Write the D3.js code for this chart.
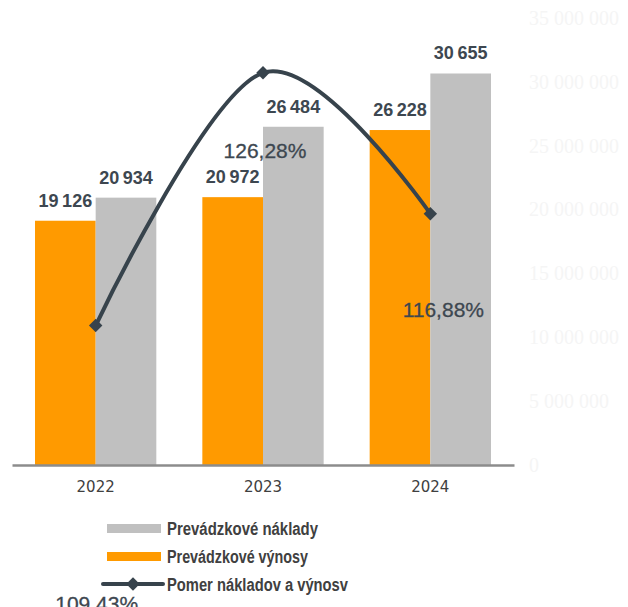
<!DOCTYPE html>
<html>
<head>
<meta charset="utf-8">
<script src="https://cdn.jsdelivr.net/npm/d3@7"></script>
<style>
  body { margin: 0; background: #fff; }
  svg { display: block; }
</style>
</head>
<body>
<svg id="chart" width="628" height="607"></svg>
<script>
// roky a hodnoty (v tis. EUR)
const years = ["2022", "2023", "2024"];
const vynosy = [19126, 20972, 26228];   // Prevádzkové výnosy
const naklady = [20934, 26484, 30655];  // Prevádzkové náklady
const pomer = [109.43, 126.28, 116.88]; // Pomer nákladov a výnosov v %
const axisTicks = [0, 5000, 10000, 15000, 20000, 25000, 30000, 35000];
const legendLabels = ["Prevádzkové náklady", "Prevádzkové výnosy", "Pomer nákladov a výnosv"];

const svg = d3.select("#chart");
const baseY = 465;

const colOrange = "#ff9a00", colGrey = "#c0c0c0", colLine = "#37434c";
const txtDark = "#3d4750";

// skaly
const x0 = d3.scaleBand().domain(years).range([12, 514])
  .paddingInner(0.275).paddingOuter(0.1375);
const x1 = d3.scaleBand().domain(["v", "n"]).range([0, x0.bandwidth()]);
const y = d3.scaleLinear().domain([0, 35000]).range([baseY, 18]);
const y2 = d3.scaleLinear().domain([100, 130]).range([467, 17]);

// prava os (takmer neviditelna)
const yAxis = d3.axisRight(y).tickValues(axisTicks).tickSize(0).tickPadding(0)
  .tickFormat(d => d3.format(",")(d * 1000).replace(/,/g, " "));
const ga = svg.append("g").attr("transform", "translate(529,0)").call(yAxis);
ga.select(".domain").remove();
ga.selectAll("text")
  .style("font-family", "'Liberation Serif', serif")
  .style("font-size", "20px")
  .attr("fill", "#f5f5f5");

// stlpce
const rows = years.map((yr, i) => ({ yr, v: vynosy[i], n: naklady[i], p: pomer[i] }));
const groups = svg.append("g").selectAll("g").data(rows).join("g")
  .attr("transform", d => `translate(${x0(d.yr)},0)`);

groups.append("rect")
  .attr("x", x1("v")).attr("width", x1.bandwidth())
  .attr("y", d => y(d.v)).attr("height", d => baseY - y(d.v))
  .attr("fill", colOrange);
groups.append("rect")
  .attr("x", x1("n")).attr("width", x1.bandwidth())
  .attr("y", d => y(d.n)).attr("height", d => baseY - y(d.n))
  .attr("fill", colGrey);

const fmtK = v => d3.format(",")(v).replace(/,/g, "\u2009");
["v", "n"].forEach(key => {
  groups.append("text")
    .attr("x", x1(key) + x1.bandwidth() / 2)
    .attr("y", d => y(d[key]) - 14)
    .attr("text-anchor", "middle")
    .attr("font-family", "'Liberation Sans', Arial, sans-serif")
    .attr("font-weight", "bold")
    .attr("font-size", 18)
    .attr("fill", txtDark)
    .text(d => fmtK(d[key]));
});

// os x
const xAxis = d3.axisBottom(x0).tickSize(0).tickSizeOuter(0).tickPadding(16);
const gx = svg.append("g").attr("transform", `translate(0,${baseY})`).call(xAxis);
gx.select(".domain").attr("stroke", "#8c8c8c").attr("stroke-width", 2.5);
gx.selectAll("text")
  .style("font-family", "'DejaVu Sans', sans-serif")
  .style("font-size", "15px")
  .attr("fill", "#404040");

// ciara pomeru
const cx = d => x0(d.yr) + x0.bandwidth() / 2;
const line = d3.line().x(cx).y(d => y2(d.p)).curve(d3.curveCardinal.tension(0));
svg.append("path").datum(rows)
  .attr("d", line)
  .attr("fill", "none")
  .attr("stroke", colLine)
  .attr("stroke-width", 4);

const diamond = d3.symbol().type(d3.symbolSquare).size(90);
svg.append("g").selectAll("path").data(rows).join("path")
  .attr("d", diamond)
  .attr("transform", d => `translate(${cx(d)},${y2(d.p)}) rotate(45)`)
  .attr("fill", colLine);

// popisky pomeru (posunute rucne ako v originali)
const pctOffset = [[1, 285], [2, 85], [13, 103]];
svg.append("g").selectAll("text").data(rows).join("text")
  .attr("x", (d, i) => cx(d) + pctOffset[i][0])
  .attr("y", (d, i) => y2(d.p) + pctOffset[i][1])
  .attr("text-anchor", "middle")
  .attr("font-family", "'Liberation Sans', Arial, sans-serif")
  .attr("font-size", 21)
  .attr("fill", txtDark)
  .attr("stroke", txtDark)
  .attr("stroke-width", 0.3)
  .text(d => d.p.toFixed(2).replace(".", ",") + "%");

// legenda
const leg = svg.append("g").attr("transform", "translate(103,528)");
const legLen = [151, 141, 181];
legendLabels.forEach((lab, i) => {
  const g = leg.append("g").attr("transform", `translate(0,${i * 28})`);
  if (i < 2) {
    g.append("rect").attr("x", 4).attr("y", -4).attr("width", 54).attr("height", 9)
      .attr("fill", i === 0 ? colGrey : colOrange);
  } else {
    g.append("line").attr("x1", 0).attr("x2", 60).attr("y1", 0).attr("y2", 0)
      .attr("stroke", colLine).attr("stroke-width", 4).attr("stroke-linecap", "round");
    g.append("path").attr("d", diamond).attr("transform", "translate(30,0) rotate(45)")
      .attr("fill", colLine);
  }
  g.append("text")
    .attr("x", 64).attr("y", 7)
    .attr("font-family", "'Liberation Sans', Arial, sans-serif")
    .attr("font-weight", "bold")
    .attr("font-size", 18)
    .attr("textLength", legLen[i])
    .attr("lengthAdjust", "spacingAndGlyphs")
    .attr("fill", "#404040")
    .text(lab);
});
</script>
</body>
</html>
